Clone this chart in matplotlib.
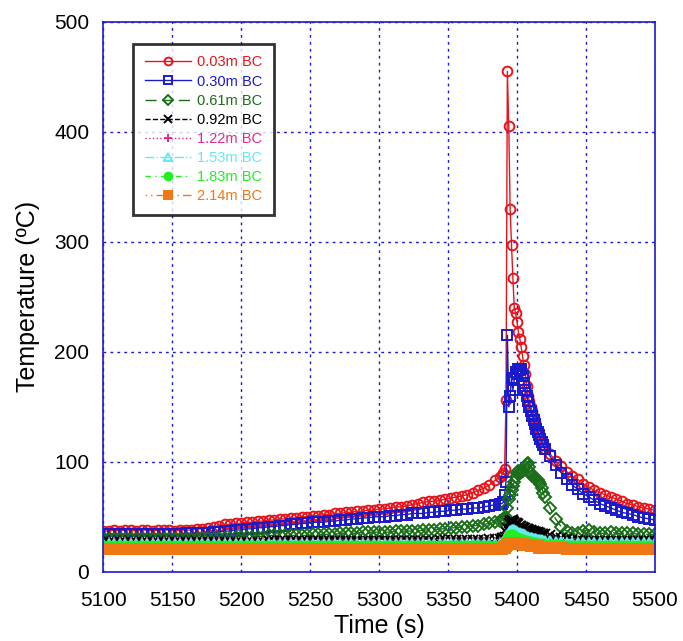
import matplotlib
matplotlib.use("Agg")
import matplotlib.pyplot as plt

# time axis: 4 s steps, 1 s steps around the spike, then 4 s steps again
time_s = list(range(5100, 5388, 4)) + list(range(5388, 5421)) + list(range(5424, 5501, 4))

t_003 = [37, 37, 38, 37, 38, 38, 37, 38, 38, 37,
         38, 38, 38, 37, 38, 38, 38, 39, 39, 40,
         41, 42, 43, 43, 44, 44, 45, 45, 46, 46,
         47, 47, 48, 48, 49, 49, 50, 50, 51, 51,
         52, 52, 53, 53, 54, 54, 55, 55, 56, 56,
         57, 57, 58, 59, 59, 60, 61, 62, 63, 64,
         64, 65, 66, 67, 68, 69, 70, 72, 74, 76,
         79, 83,
         86, 88, 90, 93, 156, 455, 405, 330, 297, 267,
         240, 235, 227, 218, 212, 204, 196, 188, 180, 169,
         160, 155, 150, 146, 141, 136, 132, 128, 124, 121,
         118, 115, 112,
         107, 101, 96, 91, 87, 84, 80, 77, 74, 72,
         70, 68, 66, 64, 62, 61, 59, 58, 57, 56]

t_030 = [34, 34, 34, 34, 34, 34, 34, 34, 34, 34,
         34, 34, 34, 34, 34, 35, 35, 35, 35, 35,
         36, 36, 37, 37, 38, 38, 39, 39, 40, 40,
         41, 41, 42, 42, 43, 43, 44, 44, 45, 45,
         45, 46, 46, 47, 47, 48, 48, 49, 49, 50,
         50, 50, 51, 51, 52, 52, 53, 53, 53, 54,
         54, 55, 55, 56, 56, 57, 57, 58, 58, 59,
         60, 61,
         62, 62, 63, 70, 82, 215, 150, 160, 176, 165,
         175, 182, 180, 184, 183, 184, 178, 172, 165, 160,
         155, 150, 146, 142, 138, 134, 130, 127, 124, 121,
         118, 115, 112,
         105, 97, 90, 84, 79, 75, 71, 68, 65, 62,
         60, 58, 56, 54, 53, 52, 50, 49, 48, 47]

t_061 = [30, 30, 30, 30, 30, 30, 30, 30, 30, 30,
         30, 30, 30, 30, 30, 30, 30, 30, 31, 31,
         31, 31, 31, 31, 32, 32, 32, 32, 32, 32,
         33, 33, 33, 33, 33, 33, 33, 33, 34, 34,
         34, 34, 34, 35, 35, 35, 35, 36, 36, 36,
         36, 36, 36, 37, 37, 37, 37, 37, 38, 38,
         38, 39, 39, 40, 40, 41, 41, 42, 42, 43,
         44, 45,
         46, 47, 48, 47, 50, 58, 66, 70, 74, 78,
         82, 86, 90, 92, 90, 91, 92, 94, 96, 98,
         99, 95, 90, 87, 86, 85, 84, 83, 82, 80,
         76, 72, 68,
         58, 48, 41, 37, 35, 35, 37, 38, 36, 35,
         35, 36, 35, 35, 35, 35, 34, 34, 34, 34]

t_092 = [27, 27, 27, 27, 27, 27, 27, 27, 27, 27,
         27, 27, 27, 27, 27, 27, 27, 27, 27, 27,
         27, 27, 27, 27, 27, 27, 27, 27, 27, 27,
         28, 28, 28, 28, 28, 28, 28, 28, 28, 28,
         28, 28, 28, 28, 28, 28, 28, 28, 28, 28,
         28, 28, 28, 28, 28, 28, 28, 28, 28, 28,
         28, 29, 29, 29, 29, 29, 29, 29, 29, 29,
         30, 30,
         30, 31, 31, 32, 36, 40, 44, 46, 47, 46,
         45, 44, 44, 43, 42, 42, 41, 40, 40, 39,
         39, 38, 38, 37, 37, 36, 36, 36, 35, 35,
         34, 34, 34,
         33, 32, 31, 30, 29, 29, 28, 28, 28, 28,
         28, 28, 28, 28, 28, 28, 28, 28, 28, 28]

t_122 = [26] * 72 + \
        [26, 26, 27, 27, 29, 31, 33, 35, 36, 36,
         35, 34, 34, 33, 32, 32, 31, 31, 30, 30,
         30, 29, 29, 29, 28, 28, 28, 28, 27, 27,
         27, 27, 27] + \
        [27, 26, 26, 26, 26, 26, 26, 26, 26, 26,
         26, 26, 26, 26, 26, 26, 26, 26, 26, 26]

t_153 = [25] * 72 + \
        [25, 25, 26, 27, 30, 33, 35, 37, 38, 38,
         38, 37, 36, 35, 35, 34, 34, 33, 33, 32,
         32, 31, 31, 31, 30, 30, 30, 29, 29, 29,
         29, 28, 28] + \
        [28, 27, 27, 26, 26, 26, 26, 26, 26, 26,
         26, 26, 26, 26, 26, 26, 26, 26, 26, 26]

t_183 = [23] * 72 + \
        [23, 23, 24, 25, 27, 30, 32, 33, 33, 33,
         32, 31, 31, 30, 30, 29, 29, 28, 28, 28,
         27, 27, 27, 26, 26, 26, 26, 25, 25, 25,
         25, 25, 24] + \
        [24, 24, 24, 23, 23, 23, 23, 23, 23, 23,
         23, 23, 23, 23, 23, 23, 23, 23, 23, 23]

t_214 = [21] * 72 + \
        [21, 21, 22, 22, 23, 24, 25, 26, 26, 26,
         26, 26, 25, 25, 25, 25, 25, 24, 24, 24,
         24, 24, 23, 23, 23, 23, 23, 23, 22, 22,
         22, 22, 22] + \
        [22, 22, 22, 21, 21, 21, 21, 21, 21, 21,
         21, 21, 21, 21, 21, 21, 21, 21, 21, 21]

labels = ["0.03m BC", "0.30m BC", "0.61m BC", "0.92m BC",
          "1.22m BC", "1.53m BC", "1.83m BC", "2.14m BC"]
series = [t_003, t_030, t_061, t_092, t_122, t_153, t_183, t_214]

styles = [
    dict(color="#e8141c", marker="o", mfc="none", ls="-", ms=7),
    dict(color="#1a1acc", marker="s", mfc="none", ls="-", ms=7),
    dict(color="#1a6e1a", marker="D", mfc="none", ls=(0, (8, 4)), ms=6),
    dict(color="black", marker="x", ls="--", ms=7),
    dict(color="#e8288c", marker="+", ls=":", ms=8),
    dict(color="#66e8f0", marker="^", mfc="none", ls="-.", ms=7),
    dict(color="#22ee22", marker="o", ls=(0, (4, 3, 1, 3)), ms=7),
    dict(color="#f07814", marker="s", ls=(0, (1, 3, 1, 3, 8, 3)), ms=7),
]

plt.rcParams["font.family"] = ["Liberation Sans", "DejaVu Sans"]

fig = plt.figure(figsize=(6.83, 6.41), dpi=100)
ax = fig.add_axes([0.151, 0.108, 0.808, 0.858])

for vals, lab, st in zip(series, labels, styles):
    assert len(vals) == len(time_s), lab
    ax.plot(time_s, vals, label=lab, lw=1, mew=1.4, **st)

ax.set_xlim(5100, 5500)
ax.set_ylim(0, 500)
ax.set_xticks(range(5100, 5501, 50))
ax.set_yticks(range(0, 501, 100))
ax.tick_params(length=0, labelsize=15)
ax.tick_params(axis="x", pad=14)
ax.tick_params(axis="y", pad=10)
ax.grid(True, color="#1a1acc", ls=(0, (2, 3)), lw=1)
for sp in ax.spines.values():
    sp.set_color("#1a1acc")
    sp.set_linewidth(1.2)

ax.set_xlabel("Time (s)", fontsize=18, labelpad=3)
ax.set_ylabel("Temperature (ºC)", fontsize=18, labelpad=10)

leg = ax.legend(loc="upper left", bbox_to_anchor=(0.054, 0.96), fontsize=10.5,
                frameon=True, fancybox=False, borderaxespad=0, handlelength=3.2,
                labelspacing=0.35, handletextpad=0.4, borderpad=0.8, markerscale=0.8)
leg.get_frame().set_edgecolor("black")
leg.get_frame().set_linewidth(2)
for txt, st in zip(leg.get_texts(), styles):
    txt.set_color(st["color"])

fig.savefig("out.png", dpi=100)
